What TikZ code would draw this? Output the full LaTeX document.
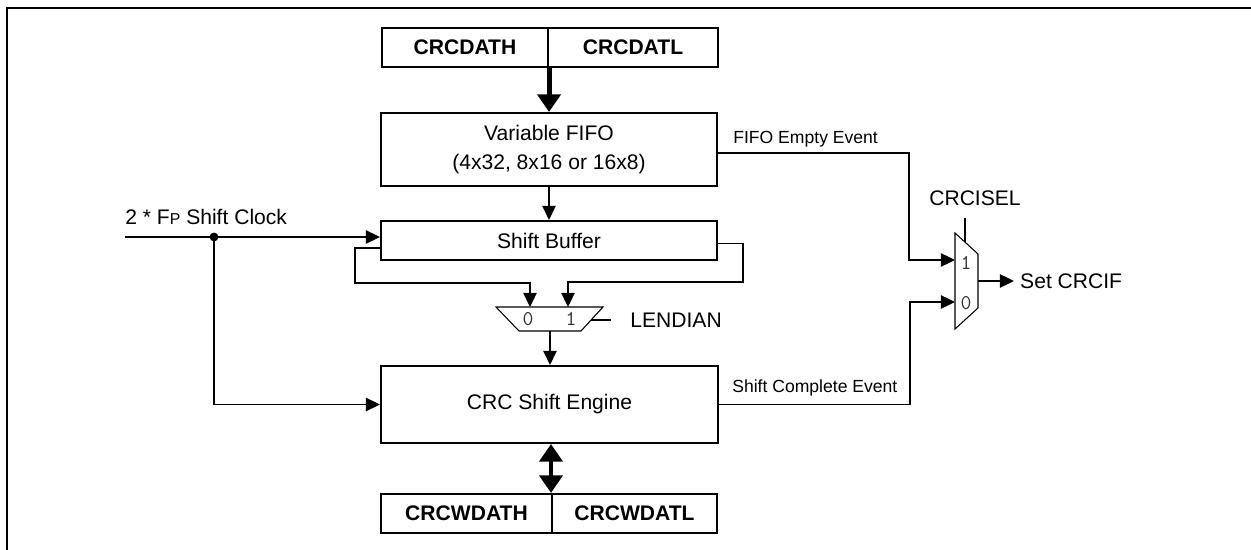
\documentclass[tikz,border=0pt]{standalone}
\usepackage{fontspec}
\setmainfont{Liberation Sans}
\usetikzlibrary{arrows.meta}

\begin{document}
\begin{tikzpicture}[x=0.02cm,y=-0.02cm,>={Triangle[length=8pt,width=7.5pt]},
  wire/.style={line width=1.1pt},
  blk/.style={draw,line width=1.2pt,inner sep=0pt,font=\fontsize{12}{16}\selectfont},
  reg/.style={blk,minimum height=0.78cm,font=\bfseries\fontsize{12}{14}\selectfont},
  lbl/.style={font=\fontsize{10}{12}\selectfont,inner sep=0pt},
  muxd/.style={font=\ttfamily\fontsize{12}{12}\selectfont,text=black!80,inner sep=0pt},
  big/.style={line width=2.8pt,-{Triangle[length=10pt,width=13pt]}}]
\useasboundingbox (0,0) rectangle (1251,550);
\draw[line width=1.6pt] (7,550) -- (7,8) -- (1251,8);

\node[reg,minimum width=3.32cm] (datH) at (465,47.5) {CRCDATH};
\node[reg,minimum width=3.4cm] (datL) at (633,47.5) {CRCDATL};
\node[blk,minimum width=6.72cm,minimum height=1.46cm,align=center] (fifo) at (549,149.5) {Variable FIFO\\(4x32, 8x16 or 16x8)};
\node[blk,minimum width=6.72cm,minimum height=0.78cm] (sbuf) at (549,240.5) {Shift Buffer};
\node[blk,minimum width=6.74cm,minimum height=1.54cm] (eng) at (549.5,404.5) {CRC Shift Engine};
\node[reg,minimum width=3.42cm] (wdatH) at (466.5,513.5) {CRCWDATH};
\node[reg,minimum width=3.3cm] (wdatL) at (634.5,513.5) {CRCWDATL};

\draw[big] (datH.south east) -- (datH.south east |- fifo.north);
\draw[wire,->] (fifo.south) -- (sbuf.north);

% shift clock
\coordinate (clk) at (125,237);
\coordinate (dot) at (214,237);
\node[anchor=base west,inner sep=0pt,font=\fontsize{12}{14}\selectfont] (clklbl) at (125,225) {2 * F{\fontsize{9}{9}\selectfont P} Shift Clock};
\draw[wire,->] (clk) -- (clk -| sbuf.west);
\draw[wire,->] (dot) |- (eng.west);
\fill (dot) circle (2.5pt);

% LENDIAN mux
\coordinate (l0) at (530,307);
\coordinate (l1) at (568,307);
\coordinate (lout) at (550,331);
\coordinate (lsel) at (591,320);
\coordinate (lselend) at (611,320);
\draw[line width=0.6pt] (496,307) -- (603,307) -- (581,331) -- (519,331) -- cycle;
\node[muxd] (m0) at (528,319) {0};
\node[muxd] (m1) at (571,319) {1};
\node[anchor=west,inner sep=0pt,font=\fontsize{12}{14}\selectfont] (lend) at (630,320) {LENDIAN};
\draw[wire,->] ([yshift=-0.15cm]sbuf.west) -| (355,283) -| (l0);
\draw[wire,->] ([yshift=-0.06cm]sbuf.east) -| (743,282) -| (l1);
\draw[wire] (lsel) -- (lselend);
\draw[wire,->] (lout) -- (lout |- eng.north);

\draw[big,{Triangle[length=10pt,width=13pt]}-{Triangle[length=10pt,width=13pt]}] ([xshift=0.03cm]eng.south) -- ([xshift=0.03cm]eng.south |- wdatH.north);

% CRCISEL mux
\coordinate (i1) at (955,260);
\coordinate (i0) at (955,302);
\coordinate (iout) at (978,281);
\coordinate (isel) at (965,242);
\coordinate (iselend) at (965,218);
\draw[line width=0.6pt] (955,233) -- (978,254) -- (978,308) -- (955,329) -- cycle;
\node[muxd] (n1) at (966,263) {1};
\node[muxd] (n0) at (966,303) {0};
\node[anchor=base,inner sep=0pt,font=\fontsize{12}{14}\selectfont] (isellbl) at (975,206) {CRCISEL};
\node[anchor=west,font=\fontsize{12}{14}\selectfont] (setif) at (1014,281) {Set CRCIF};
\draw[wire] (isel) -- (iselend);
\draw[wire,->] (iout) -- (setif.west);

\node[lbl,anchor=base west] (fe) at (733,144) {FIFO Empty Event};
\node[lbl,anchor=base west] (sc) at (732,393) {Shift Complete Event};
\draw[wire,->] ([yshift=-0.07cm]fifo.east) -| (909,260) -- (i1);
\draw[wire,->] (eng.east) -| (910,302) -- (i0);
\end{tikzpicture}
\end{document}
